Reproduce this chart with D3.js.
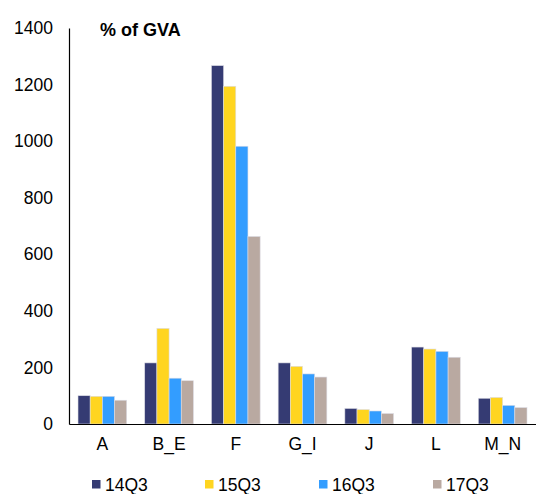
<!DOCTYPE html>
<html>
<head>
<meta charset="utf-8">
<script src="https://cdn.jsdelivr.net/npm/d3@7"></script>
<style>
  body { margin: 0; background: #fff; }
  text { font-family: "Liberation Sans", Arial, sans-serif; fill: #000; }
</style>
</head>
<body>
<div id="chart"></div>
<script>
// Sectors and quarterly values (% of GVA)
const categories = ["A", "B_E", "F", "G_I", "J", "L", "M_N"];
const seriesNames = ["14Q3", "15Q3", "16Q3", "17Q3"];
const values14Q3 = [100, 216, 1267, 216, 55, 272, 91];
const values15Q3 = [98, 338, 1194, 204, 51, 265, 94];
const values16Q3 = [98, 162, 982, 177, 46, 257, 66];
const values17Q3 = [84, 153, 663, 166, 37, 236, 58];
const yTicks = [0, 200, 400, 600, 800, 1000, 1200, 1400];

const colors = ["#353b73", "#ffd520", "#339dff", "#b9a9a1"];
const seriesValues = [values14Q3, values15Q3, values16Q3, values17Q3];

const width = 536;
const height = 494;
const margin = { top: 28, right: 0, bottom: 70, left: 69 };

const svg = d3.select("#chart").append("svg")
    .attr("width", width)
    .attr("height", height);

const x0 = d3.scaleBand()
    .domain(categories)
    .range([margin.left, width - margin.right])
    .paddingInner(0.27)
    .paddingOuter(0.135);

const x1 = d3.scaleBand()
    .domain(seriesNames)
    .range([0, x0.bandwidth()]);

const y = d3.scaleLinear()
    .domain([0, 1400])
    .range([height - margin.bottom, margin.top]);

// Bars
const groups = svg.append("g").selectAll("g")
    .data(categories)
    .enter().append("g")
    .attr("transform", d => `translate(${x0(d)},0)`);

groups.selectAll("rect")
    .data((c, i) => seriesNames.map((s, j) => ({ s, j, v: seriesValues[j][i] })))
    .enter().append("rect")
    .attr("x", d => x1(d.s))
    .attr("y", d => y(d.v))
    .attr("width", x1.bandwidth())
    .attr("height", d => y(0) - y(d.v))
    .attr("fill", d => colors[d.j])
    .attr("stroke", "#dcdce4")
    .attr("stroke-width", 0.6);

// Y axis
const yAxis = svg.append("g")
    .attr("transform", `translate(${margin.left},0)`)
    .call(d3.axisLeft(y).tickValues(yTicks).tickFormat(d3.format("d")).tickSize(0).tickPadding(16));
yAxis.select(".domain").attr("stroke", "#000").attr("stroke-width", 1.2);
yAxis.selectAll("text")
    .style("font-family", "'Liberation Sans', Arial, sans-serif")
    .style("font-size", "17.5px")
    .attr("fill", "#000");

// X axis
const xAxis = svg.append("g")
    .attr("transform", `translate(0,${y(0)})`)
    .call(d3.axisBottom(x0).tickSize(0).tickPadding(14));
xAxis.select(".domain").attr("stroke", "#000").attr("stroke-width", 1.2);
xAxis.selectAll("text")
    .style("font-family", "'Liberation Sans', Arial, sans-serif")
    .style("font-size", "17.5px")
    .attr("fill", "#000");

// Unit label
svg.append("text")
    .attr("x", 100)
    .attr("y", 36)
    .style("font-size", "18px")
    .style("font-weight", "bold")
    .text("% of GVA");

// Legend
const legendX = [92, 205, 319, 433];
const legend = svg.append("g").selectAll("g")
    .data(seriesNames)
    .enter().append("g")
    .attr("transform", (d, i) => `translate(${legendX[i]},480)`);

legend.append("rect")
    .attr("width", 8.5)
    .attr("height", 8.5)
    .attr("fill", (d, i) => colors[i]);

legend.append("text")
    .attr("x", 13)
    .attr("y", 10.5)
    .style("font-size", "17.5px")
    .text(d => d);
</script>
</body>
</html>
